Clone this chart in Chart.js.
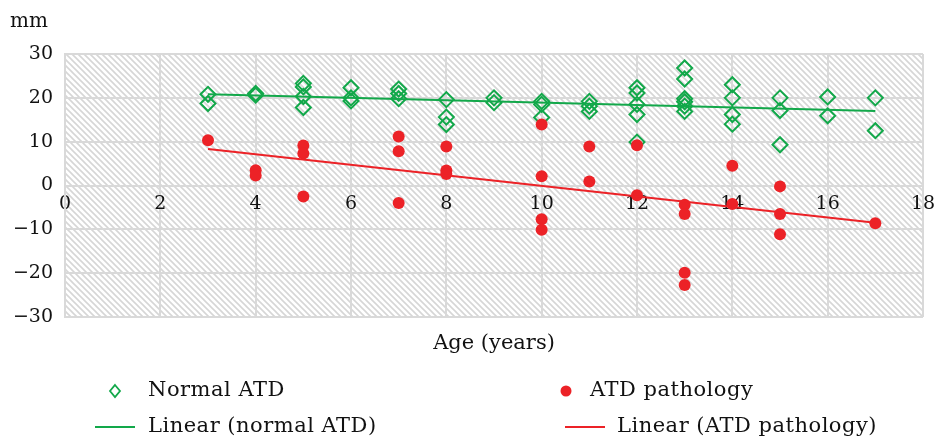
<!DOCTYPE html>
<html>
<head>
<meta charset="utf-8">
<script src="https://cdn.jsdelivr.net/npm/chart.js@4.4.1/dist/chart.umd.min.js"></script>
<style>
html,body{margin:0;padding:0;background:#fff;}
#wrap{width:936px;height:439px;}
</style>
</head>
<body>
<div id="wrap"><canvas id="c" width="936" height="439"></canvas></div>
<script>
// ---- data ----
const normalAge = [3,3,4,4,5,5,5,5,6,6,6,7,7,7,8,8,8,9,9,10,10,10,11,11,11,12,12,12,12,12,13,13,13,13,13,13,14,14,14,14,15,15,15,16,16,17,17];
const normalATD = [20.8,18.7,21.0,20.6,23.3,22.5,20.3,17.8,22.3,19.3,20.0,22.0,21.0,19.8,19.6,15.6,13.9,20.0,18.9,19.2,18.5,15.5,19.2,18.1,16.9,22.3,21.1,18.5,16.2,9.9,26.8,24.3,19.8,19.1,18.1,16.9,23.0,20.0,16.2,14.0,20.0,17.1,9.3,20.2,15.9,20.0,12.5];
const pathAge = [3,4,4,5,5,5,7,7,7,8,8,8,10,10,10,10,11,11,12,12,13,13,13,13,14,14,15,15,15,17];
const pathATD = [10.3,3.5,2.3,9.1,7.3,-2.5,11.2,7.8,-4.0,8.9,3.4,2.6,13.9,2.1,-7.7,-10.1,8.9,0.9,9.2,-2.2,-4.4,-6.5,-19.9,-22.7,4.5,-4.2,-0.2,-6.5,-11.1,-8.6];
const trendX = [3,17];
const normalTrendY = [20.8,17.0];
const pathTrendY = [8.3,-8.5];
const xTicks = [0,2,4,6,8,10,12,14,16,18];
const yTicks = [-30,-20,-10,0,10,20,30];
const labels = ['Normal ATD','ATD pathology','Linear (normal ATD)','Linear (ATD pathology)'];
const xTitle = 'Age (years)';
const yTitle = 'mm';

const GREEN = '#12a84a';
const RED = '#ec2227';
const FONT = '"DejaVu Serif", "Liberation Serif", serif';

const pts = (xs, ys) => xs.map((x,i)=>({x, y: ys[i]}));

function makePattern(ctx){
  const p = document.createElement('canvas');
  p.width = 6; p.height = 6;
  const g = p.getContext('2d');
  g.fillStyle = '#ffffff'; g.fillRect(0,0,6,6);
  g.strokeStyle = '#d6d6d6'; g.lineWidth = 1.6;
  g.beginPath();
  g.moveTo(-1,-1); g.lineTo(7,7);
  g.moveTo(-7,-1); g.lineTo(1,7);
  g.moveTo(5,-1); g.lineTo(13,7);
  g.stroke();
  return ctx.createPattern(p,'repeat');
}

const bgPlugin = {
  id: 'bg',
  beforeDraw(chart){
    const {ctx, chartArea:a} = chart;
    ctx.save();
    ctx.fillStyle = '#fff';
    ctx.fillRect(0,0,chart.width,chart.height);
    ctx.fillStyle = makePattern(ctx);
    ctx.fillRect(a.left,a.top,a.right-a.left,a.bottom-a.top);
    ctx.restore();
  },
  afterDraw(chart){
    const {ctx, chartArea:a} = chart;
    ctx.save();
    ctx.font = '20px ' + FONT;
    ctx.fillStyle = '#111';
    ctx.textBaseline = 'alphabetic';
    ctx.textAlign = 'left';
    ctx.fillText(yTitle, 10, 27);
    ctx.font = '21px ' + FONT;
    ctx.textAlign = 'center';
    ctx.fillText(xTitle, 494, 349);
    // legend
    ctx.textAlign = 'left';
    ctx.textBaseline = 'middle';
    ctx.letterSpacing = '0.5px';
    const rows = [391, 427];
    ctx.strokeStyle = GREEN; ctx.lineWidth = 1.8;
    ctx.beginPath();
    const dx=115, dy=rows[0];
    ctx.moveTo(dx,dy-6); ctx.lineTo(dx+5,dy); ctx.lineTo(dx,dy+6); ctx.lineTo(dx-5,dy); ctx.closePath();
    ctx.stroke();
    ctx.fillText(labels[0], 148, rows[0]);
    ctx.fillStyle = RED;
    ctx.beginPath(); ctx.arc(566, rows[0], 5.5, 0, Math.PI*2); ctx.fill();
    ctx.fillStyle = '#111';
    ctx.fillText(labels[1], 590, rows[0]);
    ctx.lineWidth = 2;
    ctx.strokeStyle = GREEN;
    ctx.beginPath(); ctx.moveTo(95, rows[1]); ctx.lineTo(135, rows[1]); ctx.stroke();
    ctx.fillText(labels[2], 148, rows[1]);
    ctx.strokeStyle = RED;
    ctx.beginPath(); ctx.moveTo(565, rows[1]); ctx.lineTo(605, rows[1]); ctx.stroke();
    ctx.fillText(labels[3], 617, rows[1]);
    ctx.restore();
  }
};

new Chart(document.getElementById('c'), {
  type: 'scatter',
  data: {
    datasets: [
      { label: labels[3], type: 'line', data: pts(trendX, pathTrendY), borderColor: RED, borderWidth: 2, pointRadius: 0, fill: false, order: 1 },
      { label: labels[2], type: 'line', data: pts(trendX, normalTrendY), borderColor: GREEN, borderWidth: 2, pointRadius: 0, fill: false, order: 2 },
      { label: labels[1], data: pts(pathAge, pathATD), pointStyle: 'circle', pointRadius: 6, backgroundColor: RED, borderColor: RED, borderWidth: 0, order: 3 },
      { label: labels[0], data: pts(normalAge, normalATD), pointStyle: 'rectRot', pointRadius: 7.5, backgroundColor: 'rgba(0,0,0,0)', borderColor: GREEN, borderWidth: 2, order: 4 }
    ]
  },
  options: {
    responsive: false,
    animation: false,
    layout: { padding: { left: 0, right: 13, top: 54, bottom: 122 } },
    plugins: { legend: { display: false }, tooltip: { enabled: false } },
    scales: {
      x: {
        type: 'linear',
        min: 0, max: 18,
        position: { y: 0 },
        afterBuildTicks: s => { s.ticks = xTicks.map(v=>({value:v})); },
        afterFit: s => { s.paddingRight = 0; s.paddingLeft = 0; },
        ticks: { color: '#111', font: { family: FONT, size: 19 }, padding: 7, maxRotation: 0 },
        grid: { color: '#d9d9d9', lineWidth: 2, drawTicks: false },
        border: { display: true, color: '#d9d9d9', width: 2 }
      },
      y: {
        type: 'linear',
        min: -30, max: 30,
        afterBuildTicks: s => { s.ticks = yTicks.map(v=>({value:v})); },
        afterFit: s => { s.width = 65; s.paddingTop = 0; s.paddingBottom = 0; },
        ticks: { color: '#111', font: { family: FONT, size: 19 }, padding: 12,
          callback: v => (v < 0 ? '\u2212' + Math.abs(v) : String(v)) },
        grid: { color: '#d9d9d9', lineWidth: 2, drawTicks: false },
        border: { display: true, color: '#d9d9d9', width: 2 }
      }
    }
  },
  plugins: [bgPlugin]
});
</script>
</body>
</html>
